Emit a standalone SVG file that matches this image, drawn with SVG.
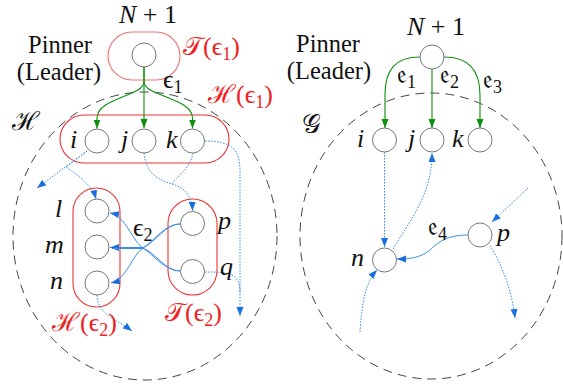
<svg xmlns="http://www.w3.org/2000/svg" width="563" height="387" viewBox="0 0 563 387">
<defs>
<marker id="ag" markerUnits="userSpaceOnUse" markerWidth="10" markerHeight="8" refX="9" refY="3.5" orient="auto"><path d="M0,0 L9,3.5 L0,7 z" fill="#0a900a"/></marker>
<marker id="ab" markerUnits="userSpaceOnUse" markerWidth="10" markerHeight="8" refX="9" refY="3.5" orient="auto"><path d="M0,0 L9,3.5 L0,7 z" fill="#1a6fe0"/></marker>
<style>
.node{fill:#fff;stroke:#777;stroke-width:1}
.grp{fill:none;stroke:#ee3333;stroke-width:1.1}
.dash{fill:none;stroke:#444;stroke-width:1;stroke-dasharray:9 6}
.g{fill:none;stroke:#0a900a;stroke-width:1.1;marker-end:url(#ag)}
.gn{fill:none;stroke:#0a900a;stroke-width:1.1}
.bd{fill:none;stroke:#3a8ee8;stroke-width:1;stroke-dasharray:1.6 1.4}
.bs{fill:none;stroke:#3a8ee8;stroke-width:1}
.m{marker-end:url(#ab)}
text{font-family:"Liberation Serif","DejaVu Serif",serif;font-size:26px;fill:#111}
.it{font-style:italic}
.red{fill:#ee2222}
.sub{font-size:18px}
.pl{font-size:24.5px}
</style>
</defs>
<g id="panels">
<ellipse class="dash" cx="145" cy="236" rx="132" ry="144"/>
<ellipse class="dash" cx="431" cy="236" rx="131" ry="143"/>
</g>
<g id="groups">
<rect class="grp" x="108" y="32" width="72" height="48" rx="24" stroke-opacity="0.7"/>
<rect class="grp" x="60" y="115" width="169" height="48" rx="24"/>
<rect class="grp" x="73" y="188" width="47" height="119" rx="23.5"/>
<rect class="grp" x="168" y="199" width="49" height="96" rx="24.5"/>
</g>
<g id="connectors">
<path class="gn" d="M144,67 L144,82"/>
<path class="g" d="M144,67 L144,128"/>
<path class="g" d="M144,82 C144,96 97,98 97,118 L97,128.5"/>
<path class="g" d="M144,82 C144,96 192.5,98 192.5,118 L192.5,128.5"/>
<path class="g" d="M420,57 C395,57 385,70 385,95 L385,128"/>
<path class="g" d="M432,69 L432,128"/>
<path class="g" d="M444,57 C469,57 480,70 480,95 L480,128"/>
<path class="bd m" d="M87,151 L37,188"/>
<path class="bd m" d="M87,151 L66,167 C77,175 92,184 96,199"/>
<path class="bd m" d="M144,153 C146,175 160,180 172,184 C185,188 192,196 192.5,211"/>
<path class="bd" d="M193,153 C190,170 176,176 172,184"/>
<path class="bd m" d="M205,141 C233,141 240,150 240,172 L240,316"/>
<path class="bd" d="M205,272 C226,272 240,272 240,292"/>
<path class="bd m" d="M97,295 C98,315 115,318 132,331"/>
<path class="bs m" d="M180,271 C165,271 154,255 143,248 C132,241 126,216 110,213"/>
<path class="bs m" d="M180,224 C165,224 154,241 143,248 C132,255 127,279 111,283"/>
<path class="bs m" d="M180,224 C165,224 154,244 143,247.5 L110,247.5"/>
<path class="bs" d="M180,271 C165,271 154,251 143,248.5 L112,248.5"/>
<path class="bd m" d="M384.5,152 L384.5,247"/>
<path class="bd m" d="M393,249 C410,220 432,195 432,153"/>
<path class="bs m" d="M468,235 C450,235 440,240 430,250 C420,258 410,259 397,259"/>
<path class="bd m" d="M528,188 L492,222"/>
<path class="bd m" d="M490,246 C500,260 512,290 515,318"/>
<path class="bd m" d="M360,332 C362,300 366,282 377,270"/>
</g>
<g id="n_top_left"><circle class="node" cx="144" cy="55" r="12"/><text x="148" y="23" text-anchor="middle"><tspan class="it">N</tspan> + 1</text></g>
<g id="n_i"><circle class="node" cx="97" cy="141" r="12"/><text class="it" x="70" y="148">i</text></g>
<g id="n_j"><circle class="node" cx="144" cy="141" r="12"/><text class="it" x="121" y="148">j</text></g>
<g id="n_k"><circle class="node" cx="192.5" cy="141" r="12"/><text class="it" x="166" y="148">k</text></g>
<g id="n_l"><circle class="node" cx="97" cy="211" r="12"/><text class="it" x="55" y="217">l</text></g>
<g id="n_m"><circle class="node" cx="97" cy="247" r="12"/><text class="it" x="45" y="253">m</text></g>
<g id="n_n"><circle class="node" cx="97" cy="283" r="12"/><text class="it" x="50" y="289">n</text></g>
<g id="n_p"><circle class="node" cx="192.5" cy="223.5" r="12"/><text class="it" x="218" y="229">p</text></g>
<g id="n_q"><circle class="node" cx="192.5" cy="271.5" r="12"/><text class="it" x="220" y="275">q</text></g>
<g id="n_top_right"><circle class="node" cx="432" cy="57" r="12"/><text x="436" y="35" text-anchor="middle"><tspan class="it">N</tspan> + 1</text></g>
<g id="n_ri"><circle class="node" cx="384.5" cy="140" r="12"/><text class="it" x="357" y="147">i</text></g>
<g id="n_rj"><circle class="node" cx="432" cy="140" r="12"/><text class="it" x="408" y="147">j</text></g>
<g id="n_rk"><circle class="node" cx="480" cy="140" r="12"/><text class="it" x="452" y="147">k</text></g>
<g id="n_rn"><circle class="node" cx="384.5" cy="260" r="12"/><text class="it" x="351" y="266">n</text></g>
<g id="n_rp"><circle class="node" cx="480" cy="235" r="12"/><text class="it" x="497" y="241">p</text></g>
<g id="labels">
<text class="pl" x="60" y="53" text-anchor="middle">Pinner</text>
<text class="pl" x="59" y="80" text-anchor="middle">(Leader)</text>
<text class="pl" x="328" y="52" text-anchor="middle">Pinner</text>
<text class="pl" x="329" y="79" text-anchor="middle">(Leader)</text>
<text class="red" x="183" y="55">𝒯(ϵ<tspan class="sub" dy="5">1</tspan><tspan dy="-5">)</tspan></text>
<text x="163" y="88">ϵ<tspan class="sub" dy="5">1</tspan></text>
<text class="red" x="208" y="103">ℋ(ϵ<tspan class="sub" dy="5">1</tspan><tspan dy="-5">)</tspan></text>
<text x="12" y="130">ℋ</text>
<text x="133" y="236">ϵ<tspan class="sub" dy="5">2</tspan></text>
<text class="red" x="52" y="331">ℋ(ϵ<tspan class="sub" dy="5">2</tspan><tspan dy="-5">)</tspan></text>
<text class="red" x="165" y="321">𝒯(ϵ<tspan class="sub" dy="5">2</tspan><tspan dy="-5">)</tspan></text>
<text x="397" y="83">𝔢<tspan class="sub" dy="5">1</tspan></text>
<text x="440" y="83">𝔢<tspan class="sub" dy="5">2</tspan></text>
<text x="483" y="88">𝔢<tspan class="sub" dy="5">3</tspan></text>
<text x="302" y="133">𝒢</text>
<text x="428" y="235">𝔢<tspan class="sub" dy="5">4</tspan></text>
</g>
</svg>
